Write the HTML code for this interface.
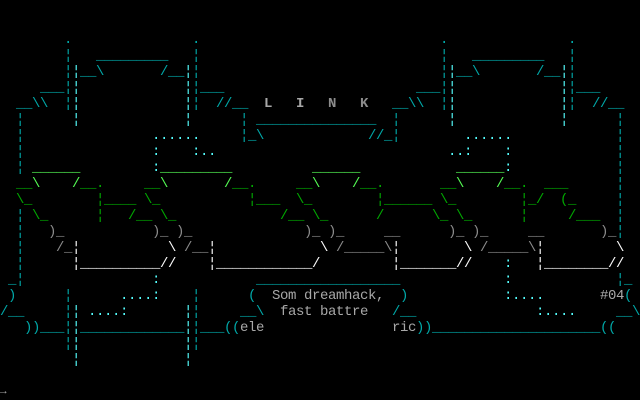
<!DOCTYPE html>
<html><head><meta charset="utf-8"><style>
html,body{margin:0;padding:0;background:#000;}
#s{position:relative;width:640px;height:400px;background:#000;overflow:hidden;font-family:"Liberation Mono","DejaVu Sans Mono",monospace;font-size:14px;letter-spacing:-0.4px;line-height:16px;}
#s i{position:absolute;font-style:normal;white-space:pre;height:16px;}
.c{color:#00a8a8}.C{color:#54fcfc}.g{color:#00a800}.G{color:#54fc54}.w{color:#fcfcfc}.a{color:#a8a8a8}.d{color:#8c8c8c}
</style></head><body><div id="s">
<i class="c" style="left:64px;top:32px">.</i><i class="c" style="left:192px;top:32px">.</i><i class="c" style="left:440px;top:32px">.</i><i class="c" style="left:568px;top:32px">.</i>
<i class="c" style="left:64px;top:48px">¦</i><i class="c" style="left:96px;top:48px">_________</i><i class="c" style="left:192px;top:48px">¦</i>
<i class="c" style="left:440px;top:48px">¦</i><i class="c" style="left:472px;top:48px">_________</i><i class="c" style="left:568px;top:48px">¦</i>
<i class="c" style="left:64px;top:64px">¦</i><i class="C" style="left:72px;top:64px">¦</i><i class="c" style="left:80px;top:64px">__\</i><i class="c" style="left:160px;top:64px">/__</i><i class="C" style="left:184px;top:64px">¦</i><i class="c" style="left:192px;top:64px">¦</i>
<i class="c" style="left:440px;top:64px">¦</i><i class="C" style="left:448px;top:64px">¦</i><i class="c" style="left:456px;top:64px">__\</i><i class="c" style="left:536px;top:64px">/__</i><i class="C" style="left:560px;top:64px">¦</i><i class="c" style="left:568px;top:64px">¦</i>
<i class="c" style="left:40px;top:80px">___</i><i class="c" style="left:64px;top:80px">¦</i><i class="C" style="left:72px;top:80px">¦</i><i class="C" style="left:184px;top:80px">¦</i><i class="c" style="left:192px;top:80px">¦</i><i class="c" style="left:200px;top:80px">___</i>
<i class="c" style="left:416px;top:80px">___</i><i class="c" style="left:440px;top:80px">¦</i><i class="C" style="left:448px;top:80px">¦</i><i class="C" style="left:560px;top:80px">¦</i><i class="c" style="left:568px;top:80px">¦</i><i class="c" style="left:576px;top:80px">___</i>
<i class="c" style="left:16px;top:96px">__\\</i><i class="c" style="left:64px;top:96px">¦</i><i class="C" style="left:72px;top:96px">¦</i><i class="C" style="left:184px;top:96px">¦</i><i class="c" style="left:192px;top:96px">¦</i><i class="c" style="left:216px;top:96px">//__</i>
<i class="a" style="left:264px;top:96px;font-weight:bold">L</i><i class="a" style="left:296px;top:96px;font-weight:bold">I</i><i class="d" style="left:328px;top:96px;font-weight:bold">N</i><i class="d" style="left:360px;top:96px;font-weight:bold">K</i>
<i class="c" style="left:392px;top:96px">__\\</i><i class="c" style="left:440px;top:96px">¦</i><i class="C" style="left:448px;top:96px">¦</i><i class="C" style="left:560px;top:96px">¦</i><i class="c" style="left:568px;top:96px">¦</i><i class="c" style="left:592px;top:96px">//__</i>
<i class="c" style="left:16px;top:112px">¦</i><i class="C" style="left:72px;top:112px">¦</i><i class="C" style="left:184px;top:112px">¦</i><i class="c" style="left:240px;top:112px">¦</i><i class="c" style="left:256px;top:112px">_______________</i><i class="c" style="left:392px;top:112px">¦</i><i class="C" style="left:448px;top:112px">¦</i><i class="C" style="left:560px;top:112px">¦</i><i class="c" style="left:616px;top:112px">¦</i>
<i class="c" style="left:16px;top:128px">¦</i><i class="C" style="left:152px;top:128px">......</i><i class="c" style="left:240px;top:128px">¦_\</i><i class="c" style="left:368px;top:128px">//_¦</i><i class="C" style="left:464px;top:128px">......</i><i class="c" style="left:616px;top:128px">¦</i>
<i class="c" style="left:16px;top:144px">¦</i><i class="C" style="left:152px;top:144px">:</i><i class="C" style="left:192px;top:144px">:..</i><i class="C" style="left:448px;top:144px">..:</i><i class="C" style="left:504px;top:144px">:</i><i class="c" style="left:616px;top:144px">¦</i>
<i class="c" style="left:16px;top:160px">¦</i><i class="G" style="left:32px;top:160px">______</i><i class="C" style="left:152px;top:160px">:</i><i class="G" style="left:160px;top:160px">_________</i><i class="G" style="left:312px;top:160px">______</i><i class="G" style="left:456px;top:160px">______</i><i class="C" style="left:504px;top:160px">:</i><i class="c" style="left:616px;top:160px">¦</i>
<i class="g" style="left:16px;top:176px">__</i><i class="G" style="left:32px;top:176px">\</i><i class="G" style="left:72px;top:176px">/</i><i class="g" style="left:80px;top:176px">__.</i><i class="g" style="left:144px;top:176px">__</i><i class="G" style="left:160px;top:176px">\</i><i class="G" style="left:224px;top:176px">/</i><i class="g" style="left:232px;top:176px">__.</i><i class="g" style="left:296px;top:176px">__</i><i class="G" style="left:312px;top:176px">\</i><i class="G" style="left:352px;top:176px">/</i><i class="g" style="left:360px;top:176px">__.</i><i class="g" style="left:440px;top:176px">__</i><i class="G" style="left:456px;top:176px">\</i><i class="G" style="left:496px;top:176px">/</i><i class="g" style="left:504px;top:176px">__.</i><i class="g" style="left:544px;top:176px">___</i><i class="c" style="left:616px;top:176px">¦</i>
<i class="g" style="left:16px;top:192px">\_</i><i class="g" style="left:96px;top:192px">¦____</i><i class="g" style="left:144px;top:192px">\_</i><i class="g" style="left:248px;top:192px">¦___</i><i class="g" style="left:296px;top:192px">\_</i><i class="g" style="left:376px;top:192px">¦______</i><i class="g" style="left:440px;top:192px">\_</i><i class="g" style="left:520px;top:192px">¦_/</i><i class="g" style="left:560px;top:192px">(_</i><i class="c" style="left:616px;top:192px">¦</i>
<i class="c" style="left:16px;top:208px">¦</i><i class="g" style="left:32px;top:208px">\_</i><i class="g" style="left:96px;top:208px">¦</i><i class="g" style="left:128px;top:208px">/__</i><i class="g" style="left:160px;top:208px">\_</i><i class="g" style="left:280px;top:208px">/__</i><i class="g" style="left:312px;top:208px">\_</i><i class="g" style="left:376px;top:208px">/</i><i class="g" style="left:432px;top:208px">\_</i><i class="g" style="left:456px;top:208px">\_</i><i class="g" style="left:520px;top:208px">¦</i><i class="g" style="left:568px;top:208px">/___</i><i class="c" style="left:616px;top:208px">¦</i>
<i class="c" style="left:16px;top:224px">¦</i><i class="d" style="left:48px;top:224px">)_</i><i class="d" style="left:152px;top:224px">)_</i><i class="d" style="left:176px;top:224px">)_</i><i class="d" style="left:304px;top:224px">)_</i><i class="d" style="left:328px;top:224px">)_</i><i class="d" style="left:384px;top:224px">__</i><i class="d" style="left:448px;top:224px">)_</i><i class="d" style="left:472px;top:224px">)_</i><i class="d" style="left:528px;top:224px">__</i><i class="d" style="left:600px;top:224px">)_</i><i class="c" style="left:616px;top:224px">¦</i>
<i class="c" style="left:16px;top:240px">¦</i><i class="d" style="left:56px;top:240px">/_</i><i class="w" style="left:72px;top:240px">¦</i><i class="w" style="left:168px;top:240px">\</i><i class="d" style="left:184px;top:240px">/__</i><i class="w" style="left:208px;top:240px">¦</i><i class="w" style="left:320px;top:240px">\</i><i class="d" style="left:336px;top:240px">/_____\</i><i class="w" style="left:392px;top:240px">¦</i><i class="w" style="left:464px;top:240px">\</i><i class="d" style="left:480px;top:240px">/_____\</i><i class="w" style="left:536px;top:240px">¦</i><i class="w" style="left:616px;top:240px">\</i>
<i class="c" style="left:16px;top:256px">¦</i><i class="w" style="left:72px;top:256px">¦__________//</i><i class="w" style="left:208px;top:256px">¦____________/</i><i class="w" style="left:392px;top:256px">¦_______//</i><i class="C" style="left:504px;top:256px">:</i><i class="w" style="left:536px;top:256px">¦________//</i>
<i class="c" style="left:8px;top:272px">_¦</i><i class="C" style="left:152px;top:272px">:</i><i class="c" style="left:256px;top:272px">__________________</i><i class="C" style="left:504px;top:272px">:</i><i class="c" style="left:616px;top:272px">¦_</i>
<i class="c" style="left:8px;top:288px">)</i><i class="c" style="left:64px;top:288px">¦</i><i class="C" style="left:120px;top:288px">....:</i><i class="c" style="left:192px;top:288px">¦</i><i class="c" style="left:248px;top:288px">(</i><i class="a" style="left:272px;top:288px">Som dreamhack,</i><i class="c" style="left:400px;top:288px">)</i><i class="C" style="left:504px;top:288px">:....</i><i class="a" style="left:600px;top:288px">#04</i><i class="c" style="left:624px;top:288px">(</i>
<i class="c" style="left:0px;top:304px">/__</i><i class="c" style="left:64px;top:304px">¦</i><i class="C" style="left:72px;top:304px">¦</i><i class="C" style="left:88px;top:304px">....:</i><i class="C" style="left:184px;top:304px">¦</i><i class="c" style="left:192px;top:304px">¦</i><i class="c" style="left:240px;top:304px">__\</i><i class="a" style="left:280px;top:304px">fast battre</i><i class="c" style="left:392px;top:304px">/__</i><i class="C" style="left:536px;top:304px">:....</i><i class="c" style="left:616px;top:304px">__\</i>
<i class="c" style="left:24px;top:320px">))___</i><i class="c" style="left:64px;top:320px">¦</i><i class="C" style="left:72px;top:320px">¦</i><i class="c" style="left:80px;top:320px">_____________</i><i class="C" style="left:184px;top:320px">¦</i><i class="c" style="left:192px;top:320px">¦___((</i><i class="a" style="left:240px;top:320px">ele</i><i class="a" style="left:392px;top:320px">ric</i><i class="c" style="left:416px;top:320px">))_____________________((</i>
<i class="c" style="left:64px;top:336px">¦</i><i class="C" style="left:72px;top:336px">¦</i><i class="C" style="left:184px;top:336px">¦</i><i class="c" style="left:192px;top:336px">¦</i>
<i class="C" style="left:72px;top:352px">¦</i><i class="C" style="left:184px;top:352px">¦</i>
<i class="a" style="left:0px;top:384px;font-size:11px;letter-spacing:0">→</i>
</div></body></html>
